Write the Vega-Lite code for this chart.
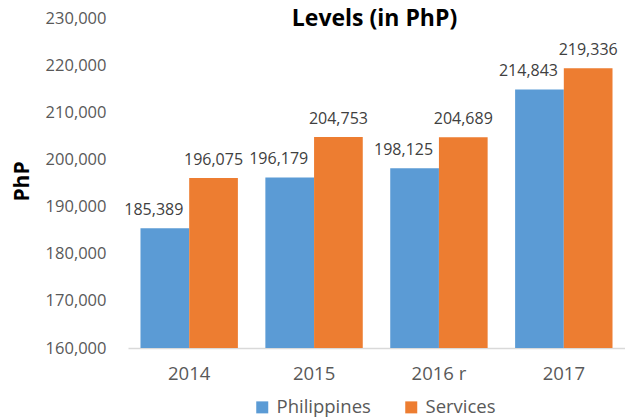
{
  "$schema": "https://vega.github.io/schema/vega-lite/v6.json",
  "width": 497,
  "height": 330,
  "autosize": {"type": "none"},
  "padding": {"left": 128, "top": 18, "right": 0, "bottom": 69},
  "background": "white",
  "config": {"view": {"stroke": null}, "font": "Open Sans"},
  "title": {
    "text": "Levels (in PhP)",
    "font": "Open Sans",
    "fontSize": 23,
    "fontWeight": "bold",
    "color": "#000000",
    "anchor": "middle",
    "baseline": "alphabetic",
    "offset": -39,
    "dx": -2
  },
  "data": {
    "values": [
      {"year": "2014", "series": "Philippines", "value": 185389},
      {"year": "2014", "series": "Services", "value": 196075},
      {"year": "2015", "series": "Philippines", "value": 196179},
      {"year": "2015", "series": "Services", "value": 204753},
      {"year": "2016 r", "series": "Philippines", "value": 198125},
      {"year": "2016 r", "series": "Services", "value": 204689},
      {"year": "2017", "series": "Philippines", "value": 214843},
      {"year": "2017", "series": "Services", "value": 219336}
    ]
  },
  "encoding": {
    "x": {
      "field": "year",
      "type": "nominal",
      "sort": null,
      "scale": {"paddingInner": 0.22, "paddingOuter": 0.1},
      "axis": {
        "title": null,
        "labelAngle": 0,
        "labelFont": "Open Sans",
        "labelFontSize": 18.5,
        "labelColor": "#595959",
        "labelPadding": 16,
        "ticks": false,
        "domainColor": "#D9D9D9",
        "domainWidth": 1.5
      }
    },
    "xOffset": {
      "field": "series",
      "type": "nominal",
      "sort": ["Philippines", "Services"],
      "scale": {"paddingInner": 0, "paddingOuter": 0}
    },
    "y": {
      "field": "value",
      "type": "quantitative",
      "scale": {"domain": [160000, 230000], "nice": false, "zero": false},
      "axis": {
        "values": [160000, 170000, 180000, 190000, 200000, 210000, 220000, 230000],
        "labelExpr": "format(datum.value, ',')",
        "grid": false,
        "domain": false,
        "ticks": false,
        "labelFont": "Open Sans",
        "labelFontSize": 16.5,
        "labelColor": "#595959",
        "labelPadding": 22,
        "title": "PhP",
        "titleFont": "Open Sans",
        "titleFontSize": 21,
        "titleFontWeight": "bold",
        "titleColor": "#000000",
        "titleAngle": -90,
        "titleX": -106,
        "titleY": 163,
        "titleAlign": "center",
        "titleBaseline": "middle"
      }
    }
  },
  "layer": [
    {
      "mark": {"type": "bar", "clip": true},
      "encoding": {
        "color": {
          "field": "series",
          "type": "nominal",
          "scale": {"domain": ["Philippines", "Services"], "range": ["#5B9BD5", "#ED7D31"]},
          "legend": {
            "orient": "none",
            "legendX": 125,
            "legendY": 380,
            "direction": "horizontal",
            "title": null,
            "symbolType": "square",
            "symbolSize": 144,
            "symbolStrokeWidth": 0,
            "labelFont": "Open Sans",
            "labelFontSize": 18.5,
            "labelColor": "#595959",
            "labelOffset": 5,
            "columnPadding": 31,
            "padding": 0
          }
        }
      }
    },
    {
      "transform": [{"filter": "datum.series == 'Philippines'"}],
      "mark": {"type": "text", "dx": -11, "dy": -13, "baseline": "alphabetic", "font": "Open Sans", "fontSize": 16, "color": "#404040"},
      "encoding": {"text": {"field": "value", "type": "quantitative", "format": ","}}
    },
    {
      "transform": [{"filter": "datum.series == 'Services'"}],
      "mark": {"type": "text", "dx": 0, "dy": -13, "baseline": "alphabetic", "font": "Open Sans", "fontSize": 16, "color": "#404040"},
      "encoding": {"text": {"field": "value", "type": "quantitative", "format": ","}}
    }
  ]
}
